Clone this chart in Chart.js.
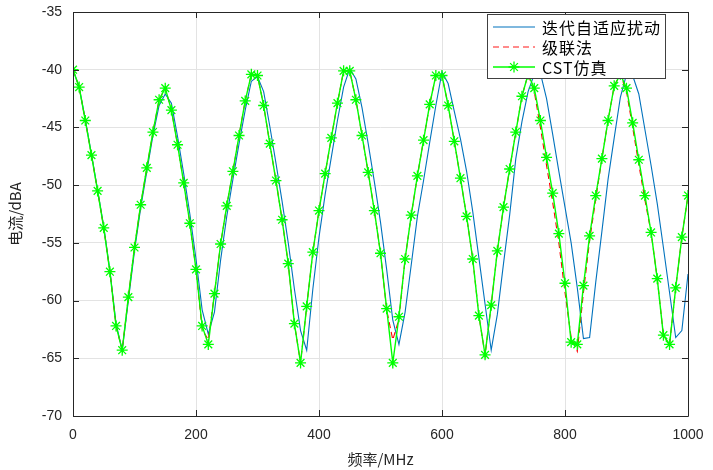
<!DOCTYPE html>
<html>
<head>
<meta charset="utf-8">
<script src="https://cdn.jsdelivr.net/npm/chart.js@4.4.1/dist/chart.umd.min.js"></script>
<style>
html,body{margin:0;padding:0;background:#fff;}
#wrap{width:713px;height:470px;position:relative;}
</style>
</head>
<body>
<div id="wrap"><canvas id="c" width="713" height="470"></canvas></div>
<script>
// ---- data ----
const freqMHz = [0,10,20,30,40,50,60,70,80,90,100,110,120,130,140,150,160,170,180,190,200,
  210,220,230,240,250,260,270,280,290,300,310,320,330,340,350,360,370,380,390,400,
  410,420,430,440,450,460,470,480,490,500,510,520,530,540,550,560,570,580,590,600,
  610,620,630,640,650,660,670,680,690,700,710,720,730,740,750,760,770,780,790,800,
  810,820,830,840,850,860,870,880,890,900,910,920,930,940,950,960,970,980,990,1000];

const iterAdaptive = [-40.0,-41.5,-44.3,-47.3,-50.4,-53.6,-57.4,-62.0,-64.3,-60.0,-55.7,
  -52.0,-48.8,-45.7,-43.1,-42.1,-42.9,-45.8,-49.0,-52.5,-56.4,
  -60.8,-62.9,-61.0,-56.5,-52.7,-49.5,-46.4,-43.5,-41.0,-40.6,
  -41.9,-44.9,-48.1,-51.4,-55.0,-59.0,-62.6,-64.3,-59.0,-54.5,
  -50.8,-47.6,-44.4,-41.5,-39.9,-40.8,-43.3,-46.4,-49.7,-53.2,
  -57.3,-61.7,-63.8,-61.0,-56.9,-52.7,-49.6,-46.3,-43.1,-40.2,
  -41.2,-43.6,-46.0,-48.8,-52.3,-56.3,-60.3,-64.3,-61.2,-56.8,
  -52.6,-47.7,-44.5,-41.9,-40.4,-40.3,-42.5,-45.6,-48.8,-51.9,
  -55.0,-58.9,-63.3,-63.2,-58.4,-54.0,-49.5,-45.9,-42.4,-40.4,
  -40.5,-42.1,-45.2,-48.3,-51.6,-55.4,-59.3,-63.2,-62.6,-57.7];

const cascade = [-40.0,-41.5,-44.4,-47.4,-50.5,-53.7,-57.5,-62.2,-64.3,-59.7,-55.4,
  -51.7,-48.5,-45.4,-42.6,-41.6,-43.5,-46.5,-49.8,-53.3,-57.3,
  -62.5,-63.4,-59.4,-55.1,-51.8,-48.8,-45.7,-42.7,-40.4,-40.5,
  -43.1,-46.4,-49.6,-53.0,-56.8,-62.0,-65.4,-60.5,-55.8,-52.2,
  -49.0,-45.9,-42.9,-40.1,-40.1,-42.6,-45.7,-48.9,-52.2,-55.9,
  -60.8,-63.4,-61.6,-56.4,-52.6,-49.2,-46.1,-43.0,-40.5,-40.5,
  -43.1,-46.2,-49.4,-52.7,-56.4,-61.3,-64.7,-60.4,-55.7,-51.9,
  -48.6,-45.4,-42.3,-40.4,-41.9,-45.0,-48.3,-51.5,-55.0,-59.3,
  -63.2,-64.4,-59.3,-54.8,-51.2,-47.7,-44.4,-41.4,-40.4,-41.9,
  -45.0,-48.2,-51.3,-54.1,-58.1,-63.0,-63.8,-58.9,-54.5,-50.9];

const cstSim = [-40.0,-41.5,-44.4,-47.4,-50.5,-53.7,-57.5,-62.2,-64.3,-59.7,-55.4,
  -51.7,-48.5,-45.4,-42.6,-41.6,-43.5,-46.5,-49.8,-53.3,-57.3,
  -62.2,-63.8,-59.4,-55.1,-51.8,-48.8,-45.7,-42.7,-40.4,-40.5,
  -43.1,-46.4,-49.6,-53.0,-56.8,-62.0,-65.4,-60.5,-55.8,-52.2,
  -49.0,-45.9,-42.9,-40.1,-40.1,-42.6,-45.7,-48.9,-52.2,-55.9,
  -60.7,-65.4,-61.4,-56.4,-52.6,-49.2,-46.1,-43.0,-40.5,-40.5,
  -43.1,-46.2,-49.4,-52.7,-56.4,-61.3,-64.7,-60.4,-55.7,-51.9,
  -48.6,-45.4,-42.3,-40.4,-41.6,-44.4,-47.6,-50.7,-54.2,-58.5,
  -63.6,-63.8,-58.7,-54.4,-50.9,-47.7,-44.4,-41.4,-40.4,-41.6,
  -44.6,-47.8,-50.9,-54.1,-58.1,-63.0,-63.8,-58.9,-54.5,-50.9];

const seriesNames = ['迭代自适应扰动', '级联法', 'CST仿真'];
const xTicks = [0, 200, 400, 600, 800, 1000];
const yTicks = [-70, -65, -60, -55, -50, -45, -40, -35];
const xTitle = '频率/MHz';
const yTitle = '电流/dBA';

// ---- styles ----
const BLUE = '#0072BD', RED = '#FF0000', GREEN = '#00FF00';
const AXC = '#262626';
const tickFont = {family: '"Liberation Sans", Arial, sans-serif', size: 14};
const cjkFamily = '"Noto Sans CJK SC", "Liberation Sans", sans-serif';

const toXY = ys => freqMHz.map((f, i) => ({x: f, y: ys[i]}));

const framePlugin = {
  id: 'frame',
  afterDatasetsDraw(chart) {
    const {ctx, chartArea: a, scales: {x, y}} = chart;
    ctx.save();
    ctx.strokeStyle = AXC;
    ctx.lineWidth = 1;
    ctx.beginPath();
    ctx.rect(Math.round(a.left) + 0.5, Math.round(a.top) + 0.5,
             Math.round(a.right - a.left), Math.round(a.bottom - a.top));
    ctx.stroke();
    const L = 6;
    ctx.beginPath();
    xTicks.forEach(v => {
      const px = Math.round(x.getPixelForValue(v)) + 0.5;
      ctx.moveTo(px, a.bottom); ctx.lineTo(px, a.bottom - L);
      ctx.moveTo(px, a.top); ctx.lineTo(px, a.top + L);
    });
    yTicks.forEach(v => {
      const py = Math.round(y.getPixelForValue(v)) + 0.5;
      ctx.moveTo(a.left, py); ctx.lineTo(a.left + L, py);
      ctx.moveTo(a.right, py); ctx.lineTo(a.right - L, py);
    });
    ctx.stroke();

    // legend
    const bx = 487.5, by = 14.5, bw = 178, bh = 64;
    ctx.fillStyle = '#fff';
    ctx.fillRect(bx, by, bw, bh);
    ctx.strokeStyle = '#404040';
    ctx.strokeRect(bx, by, bw, bh);
    const rows = [27, 47, 67];
    const x0 = 493, x1 = 535, tx = 542;
    ctx.strokeStyle = BLUE; ctx.lineWidth = 1.1; ctx.setLineDash([]);
    ctx.beginPath(); ctx.moveTo(x0, rows[0]); ctx.lineTo(x1, rows[0]); ctx.stroke();
    ctx.strokeStyle = '#ff6666'; ctx.lineWidth = 1.6; ctx.setLineDash([6, 4]);
    ctx.beginPath(); ctx.moveTo(x0, rows[1]); ctx.lineTo(x1, rows[1]); ctx.stroke();
    ctx.setLineDash([]);
    ctx.strokeStyle = GREEN; ctx.lineWidth = 1.5;
    ctx.beginPath(); ctx.moveTo(x0, rows[2]); ctx.lineTo(x1, rows[2]); ctx.stroke();
    const sx = 514, sy = rows[2], r = 5.5;
    ctx.lineWidth = 1.3;
    ctx.beginPath();
    for (let k = 0; k < 4; k++) {
      const ang = k * Math.PI / 4;
      ctx.moveTo(sx - r * Math.cos(ang), sy - r * Math.sin(ang));
      ctx.lineTo(sx + r * Math.cos(ang), sy + r * Math.sin(ang));
    }
    ctx.stroke();
    ctx.fillStyle = '#000';
    ctx.textBaseline = 'middle';
    ctx.textAlign = 'left';
    ctx.font = '16px ' + cjkFamily;
    if ('letterSpacing' in ctx) ctx.letterSpacing = '1px';
    seriesNames.forEach((n, i) => ctx.fillText(n, tx, rows[i] + 1));
    ctx.restore();
  }
};

new Chart(document.getElementById('c'), {
  type: 'line',
  data: {
    datasets: [
      {label: seriesNames[0], data: toXY(iterAdaptive), borderColor: BLUE, borderWidth: 1.1,
       pointRadius: 0, tension: 0, order: 3},
      {label: seriesNames[1], data: toXY(cascade), borderColor: RED, borderWidth: 1.1,
       borderDash: [6, 4], pointRadius: 0, tension: 0, order: 2},
      {label: seriesNames[2], data: toXY(cstSim), borderColor: GREEN, borderWidth: 1.4,
       pointStyle: 'star', pointRadius: 5.5, pointBorderColor: GREEN, pointBorderWidth: 1.3,
       pointBackgroundColor: GREEN, tension: 0, order: 1}
    ]
  },
  options: {
    responsive: false,
    animation: false,
    events: [],
    layout: {padding: {top: 12, right: 25, left: 0, bottom: 0}},
    plugins: {legend: {display: false}, tooltip: {enabled: false}},
    scales: {
      x: {
        type: 'linear', min: 0, max: 1000,
        afterBuildTicks: s => { s.ticks = xTicks.map(v => ({value: v})); },
        afterFit: s => { s.height = 54; s.paddingLeft = 0; s.paddingRight = 0; },
        grid: {color: '#e3e3e3', drawTicks: false},
        border: {display: false},
        ticks: {font: tickFont, color: AXC, padding: 11, maxRotation: 0,
                callback: v => String(v)},
        title: {display: true, text: xTitle, color: AXC,
                font: {family: cjkFamily, size: 15}, padding: {top: 0, bottom: 2}}
      },
      y: {
        min: -70, max: -35,
        afterBuildTicks: s => { s.ticks = yTicks.map(v => ({value: v})); },
        afterFit: s => { s.width = 73; s.paddingTop = 0; s.paddingBottom = 0; },
        grid: {color: '#e3e3e3', drawTicks: false},
        border: {display: false},
        ticks: {font: tickFont, color: AXC, padding: 11, callback: v => String(v)},
        title: {display: true, text: yTitle, color: AXC,
                font: {family: cjkFamily, size: 15}, padding: {top: 6, bottom: 0}}
      }
    }
  },
  plugins: [framePlugin]
});
</script>
</body>
</html>
